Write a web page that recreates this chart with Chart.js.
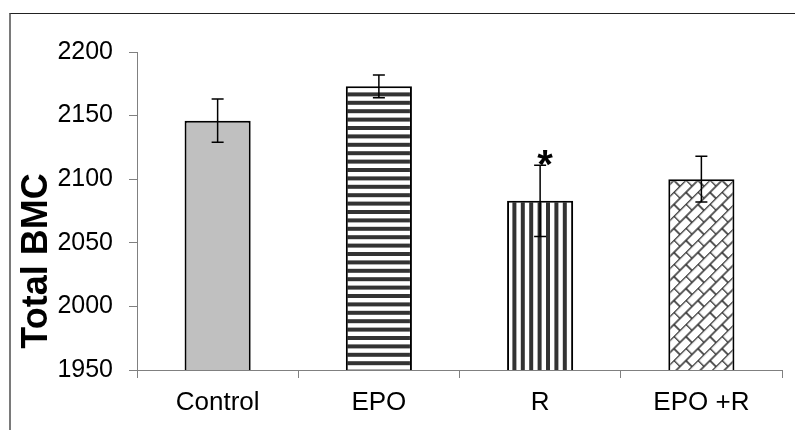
<!DOCTYPE html>
<html>
<head>
<meta charset="utf-8">
<script src="https://cdn.jsdelivr.net/npm/chart.js@4.4.1/dist/chart.umd.min.js"></script>
<style>
    html, body { margin: 0; padding: 0; background: #fff; }
    #wrap { position: relative; width: 795px; height: 430px; }
    #frame {
        position: absolute; left: 9px; top: 13px; right: 0; bottom: 0;
        border-top: 1px solid #222; border-left: 2px solid #7a7a7a;
        pointer-events: none;
    }
</style>
</head>
<body>
<div id="wrap">
    <canvas id="myChart" width="795" height="430"></canvas>
    <div id="frame"></div>
</div>
<script>
const groups = ['Control', 'EPO', 'R', 'EPO +R'];
const bmcMean = [2146, 2173, 2083, 2100];
const bmcErr = [17, 9, 28, 18];
const marked = ['', '', '*', ''];
const yTitle = 'Total BMC';

const FONT = "'Liberation Sans', Arial, sans-serif";

function stripes(vertical) {
    // 5 periods of 8.4px in one 42px tile
    const c = document.createElement('canvas');
    c.width = vertical ? 42 : 1;
    c.height = vertical ? 1 : 42;
    const g = c.getContext('2d');
    g.fillStyle = '#fff';
    g.fillRect(0, 0, c.width, c.height);
    g.fillStyle = '#333';
    for (let k = 0; k < 5; k++) {
        const p = k * 8.4;
        if (vertical) g.fillRect(p, 0, 4, 1);
        else g.fillRect(0, p, 1, 4);
    }
    return g.createPattern(c, 'repeat');
}

function bricks() {
    const c = document.createElement('canvas');
    c.width = 17;
    c.height = 17;
    const g = c.getContext('2d');
    g.fillStyle = '#fff';
    g.fillRect(0, 0, 17, 17);
    g.strokeStyle = '#2e2e2e';
    g.lineWidth = 1.6;
    g.beginPath();
    g.moveTo(0, 0.5); g.lineTo(17, 0.5);
    g.moveTo(0, 9); g.lineTo(17, 9);
    g.moveTo(0.5, 0); g.lineTo(0.5, 9);
    g.moveTo(9, 9); g.lineTo(9, 17);
    g.stroke();
    const pat = g.createPattern(c, 'repeat');
    pat.setTransform(new DOMMatrix().rotate(-45));
    return pat;
}

const errorBars = {
    id: 'errorBars',
    afterDatasetsDraw(chart) {
        const ctx = chart.ctx;
        const y = chart.scales.y;
        const meta = chart.getDatasetMeta(0);
        ctx.save();
        ctx.strokeStyle = '#000';
        ctx.lineWidth = 1.5;
        meta.data.forEach((bar, i) => {
            const top = y.getPixelForValue(bmcMean[i] + bmcErr[i]);
            const bot = y.getPixelForValue(bmcMean[i] - bmcErr[i]);
            ctx.beginPath();
            ctx.moveTo(bar.x, top); ctx.lineTo(bar.x, bot);
            ctx.moveTo(bar.x - 6, top); ctx.lineTo(bar.x + 6, top);
            ctx.moveTo(bar.x - 6, bot); ctx.lineTo(bar.x + 6, bot);
            ctx.stroke();
            if (marked[i]) {
                ctx.fillStyle = '#000';
                ctx.font = 'bold 40px ' + FONT;
                ctx.textAlign = 'center';
                ctx.textBaseline = 'alphabetic';
                ctx.fillText(marked[i], bar.x + 5, top + 13);
            }
        });
        ctx.restore();
    }
};

// axis title sits lower than the middle of the axis in the original
const sideTitle = {
    id: 'sideTitle',
    afterDraw(chart) {
        const ctx = chart.ctx;
        const area = chart.chartArea;
        ctx.save();
        ctx.translate(37.5, (area.top + area.bottom) / 2 + 50);
        ctx.rotate(-Math.PI / 2);
        ctx.fillStyle = '#000';
        ctx.font = 'bold 36px ' + FONT;
        ctx.textAlign = 'center';
        ctx.textBaseline = 'middle';
        ctx.fillText(yTitle, 0, 0);
        ctx.restore();
    }
};

const ctx = document.getElementById('myChart').getContext('2d');

new Chart(ctx, {
    type: 'bar',
    data: {
        labels: groups,
        datasets: [
            {
                data: bmcMean,
                backgroundColor: ['#c0c0c0', stripes(false), stripes(true), bricks()],
                borderColor: '#000',
                borderWidth: 2,
                borderSkipped: false,
                barPercentage: 0.41,
                categoryPercentage: 1
            }
        ]
    },
    options: {
        responsive: false,
        animation: false,
        layout: {
            padding: { left: 0, right: 13, top: 52, bottom: 0 }
        },
        scales: {
            x: {
                afterFit: (s) => { s.height = 60; },
                grid: {
                    offset: true,
                    drawOnChartArea: false,
                    tickLength: 8,
                    color: '#808080'
                },
                border: { color: '#808080', width: 1 },
                ticks: {
                    color: '#000',
                    padding: 9,
                    font: { family: FONT, size: 26 }
                }
            },
            y: {
                min: 1950,
                max: 2200,
                afterFit: (s) => { s.width = 137; },
                grid: {
                    drawOnChartArea: false,
                    tickLength: 8,
                    color: '#808080'
                },
                border: { color: '#808080', width: 1 },
                ticks: {
                    stepSize: 50,
                    color: '#000',
                    padding: 16,
                    font: { family: FONT, size: 25 },
                    callback: (v) => String(v)
                }
            }
        },
        plugins: {
            legend: { display: false },
            tooltip: { enabled: false }
        }
    },
    plugins: [errorBars, sideTitle]
});
</script>
</body>
</html>
